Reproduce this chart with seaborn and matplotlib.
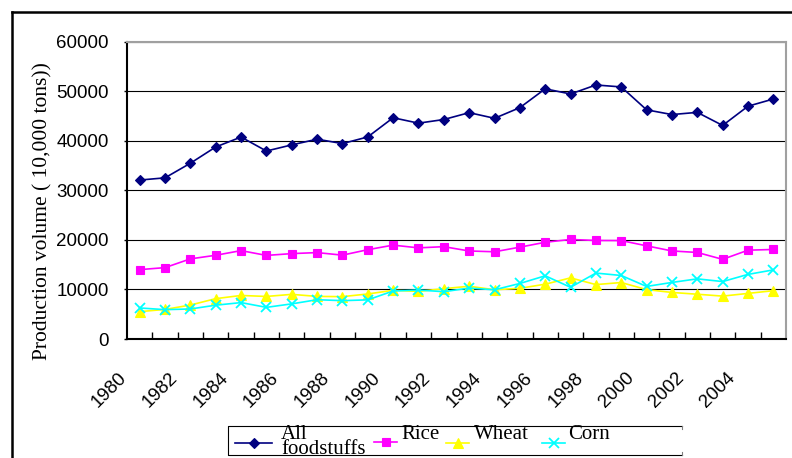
import numpy as np
import matplotlib
matplotlib.use("Agg")
import matplotlib.pyplot as plt
from matplotlib.lines import Line2D
from matplotlib.patches import Rectangle
from matplotlib.transforms import ScaledTranslation
import seaborn as sns

# Grain production, 10,000 tons
years = list(range(1980, 2006))
all_foodstuffs = [32056, 32502, 35450, 38728, 40731, 37911, 39151, 40298, 39408, 40755,
                  44624, 43529, 44266, 45649, 44510, 46662, 50454, 49417, 51230, 50839,
                  46218, 45264, 45706, 43070, 46947, 48402]
rice = [13991, 14396, 16160, 16887, 17826, 16857, 17222, 17426, 16911, 18013,
        18933, 18381, 18622, 17751, 17593, 18523, 19510, 20074, 19871, 19849,
        18791, 17758, 17454, 16066, 17909, 18059]
wheat = [5521, 5964, 6847, 8139, 8782, 8581, 9004, 8590, 8543, 9081,
         9823, 9595, 10159, 10639, 9930, 10221, 11057, 12329, 10973, 11388,
         9964, 9387, 9029, 8649, 9195, 9745]
corn = [6260, 5921, 6056, 6821, 7341, 6383, 7086, 7924, 7735, 7893,
        9682, 9877, 9538, 10270, 9928, 11199, 12747, 10431, 13295, 12809,
        10600, 11409, 12131, 11583, 13029, 13937]

series_labels = ["All\nfoodstuffs", "Rice", "Wheat", "Corn"]
y_ticks = [0, 10000, 20000, 30000, 40000, 50000, 60000]
x_tick_years = list(range(1980, 2005, 2))
y_title = "Production volume ( 10,000 tons))"

plt.rcParams["font.family"] = ["Liberation Sans", "DejaVu Sans"]
SERIF = ["Liberation Serif", "DejaVu Serif"]

W, H = 792, 458
fig = plt.figure(figsize=(W / 100, H / 100), dpi=100)


def fx(x):
    return x / W


def fy(y):
    return 1 - y / H


ax = fig.add_axes([fx(127), fy(339), fx(786) - fx(127), fy(41.5) - fy(339)])

styles = [
    dict(color="#000080", marker="D", markersize=5.5, mew=0.8),
    dict(color="#FF00FF", marker="s", markersize=5.5, mew=0.8),
    dict(color="#FFFF00", marker="^", markersize=6.5, mew=0.8),
    dict(color="#00FFFF", marker="x", markersize=6.5, mew=1.3),
]
values = [all_foodstuffs, rice, wheat, corn]

for vals, st in zip(values, styles):
    sns.lineplot(x=years, y=vals, ax=ax, color=st["color"], marker=st["marker"],
                 markersize=st["markersize"], markeredgecolor=st["color"],
                 markerfacecolor=st["color"], markeredgewidth=st["mew"],
                 linewidth=1.2, legend=False)

ax.set_xlim(1979.5, 2005.5)
ax.set_ylim(0, 60000)
ax.set_xlabel("")
ax.set_ylabel("")

ax.set_yticks(y_ticks)
ax.set_yticklabels([str(v) for v in y_ticks])
ax.grid(axis="y", color="black", linewidth=0.8)
ax.grid(axis="x", visible=False)
ax.set_axisbelow(True)
ax.tick_params(axis="y", length=2.2, width=1, pad=11, labelsize=13.5, colors="black")

ax.set_xticks(x_tick_years)
ax.set_xticklabels([str(y) for y in x_tick_years])
ax.set_xticks(np.arange(years[0] + 0.5, years[-1], 1.0), minor=True)
ax.tick_params(axis="x", which="major", length=0, pad=26, labelsize=13.5)
ax.tick_params(axis="x", which="minor", direction="in", length=5, width=1, color="black")
shift = ScaledTranslation(-15.5 / 100, 0, fig.dpi_scale_trans)
for lbl in ax.get_xticklabels():
    lbl.set_rotation(45)
    lbl.set_ha("right")
    lbl.set_va("center")
    lbl.set_rotation_mode("anchor")
    lbl.set_transform(lbl.get_transform() + shift)

for side in ("left", "bottom"):
    ax.spines[side].set_color("black")
    ax.spines[side].set_linewidth(1.5)
for side in ("top", "right"):
    ax.spines[side].set_color("#A0A0A0")
    ax.spines[side].set_linewidth(1.5)

fig.text(fx(43), fy(211), y_title, rotation=90, ha="center", va="center",
         fontsize=15.5, family=SERIF)

# outer chart frame
tf = fig.transFigure
fig.add_artist(Line2D([fx(12), fx(12)], [fy(12), fy(470)], transform=tf,
                      color="black", lw=1.8))
fig.add_artist(Line2D([fx(12), fx(800)], [fy(12), fy(12)], transform=tf,
                      color="black", lw=1.8))

# legend box
fig.add_artist(Line2D([fx(682), fx(228), fx(228), fx(682)],
                      [fy(426), fy(426), fy(455), fy(455)], transform=tf,
                      color="black", lw=0.8))
fig.add_artist(Line2D([fx(682), fx(682)], [fy(426), fy(429)], transform=tf,
                      color="#808080", lw=0.8))
fig.add_artist(Line2D([fx(682), fx(682)], [fy(452), fy(455)], transform=tf,
                      color="#808080", lw=0.8))
fig.add_artist(Rectangle((fx(277), fy(460)), fx(373) - fx(277), fy(430) - fy(460),
                         transform=tf, facecolor="white", edgecolor="none"))

handle_x = [(235, 272), (374, 397), (446, 469), (542, 565)]
handle_y = [443, 442, 443, 443]
for (x0, x1), hy, st in zip(handle_x, handle_y, styles):
    fig.add_artist(Line2D([fx(x0), fx(x1)], [fy(hy), fy(hy)], transform=tf,
                          color=st["color"], lw=1.2))
    fig.add_artist(Line2D([fx((x0 + x1) / 2)], [fy(hy)], transform=tf,
                          color=st["color"], marker=st["marker"],
                          markersize=st["markersize"], mec=st["color"],
                          mfc=st["color"], mew=st["mew"], linestyle="none"))

# the two-line label sits on its last baseline
text_pos = [(281, 454), (401, 439), (474, 439), (568, 439)]
for (tx, ty), lab in zip(text_pos, series_labels):
    fig.text(fx(tx), fy(ty), lab, ha="left", va="baseline", fontsize=15,
             family=SERIF, linespacing=0.72)

fig.savefig("out.png", dpi=100)
